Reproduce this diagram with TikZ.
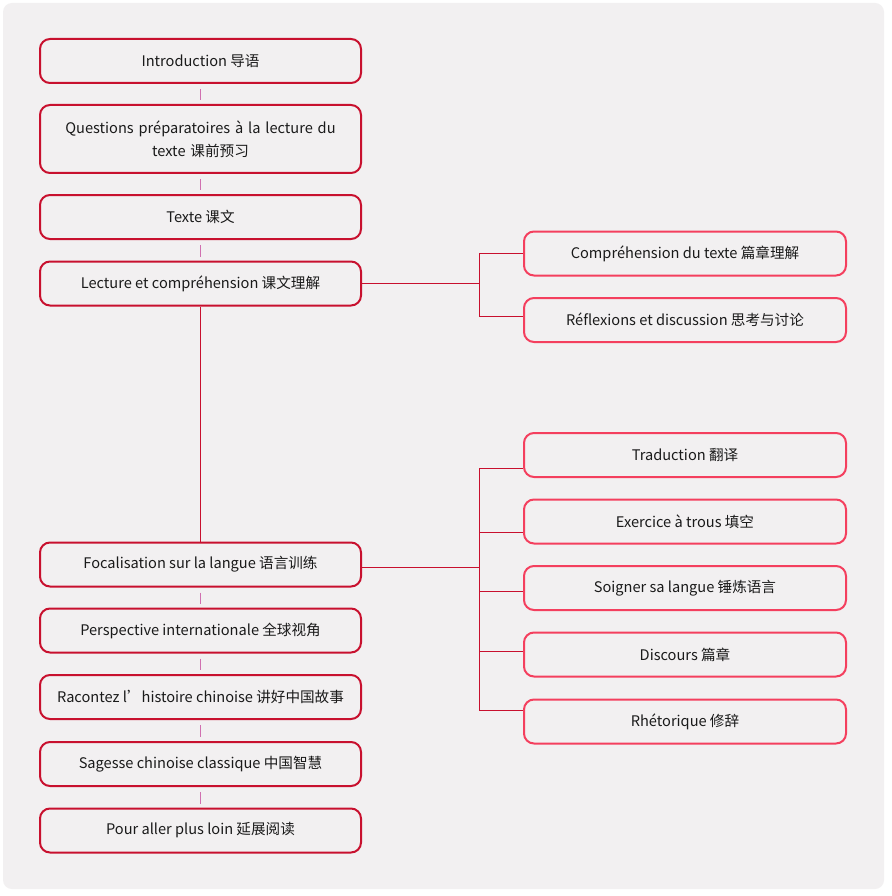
\documentclass[tikz,border=0pt]{standalone}
\usepackage{fontspec}
\setmainfont{Noto Sans CJK SC}
\definecolor{bgc}{HTML}{F2F0F1}
\definecolor{leftc}{HTML}{C8102E}
\definecolor{rightc}{HTML}{F43F5E}
\definecolor{linkc}{HTML}{D070B0}
\definecolor{txt}{HTML}{1A1A1A}
\begin{document}
\begin{tikzpicture}[x=1pt,y=-1pt,
  lbox/.style={draw=leftc,line width=2pt,rounded corners=10pt,minimum width=321pt,minimum height=44pt,inner sep=0pt,align=center,font=\fontsize{14.6}{23}\selectfont,text=txt},
  rbox/.style={draw=rightc,line width=2pt,rounded corners=10pt,minimum width=322pt,minimum height=44pt,inner sep=0pt,align=center,font=\fontsize{14.6}{23}\selectfont,text=txt},
  link/.style={draw=linkc,line width=1.2pt},
  tree/.style={draw=leftc,line width=1pt}]
\useasboundingbox (0,0) rectangle (891,896);
\fill[white] (0,0) rectangle (891,896);
\fill[bgc,rounded corners=9pt] (3,3) rectangle (884,889);
% left column
\node[lbox] (intro) at (200.5,61) {Introduction 导语};
\node[lbox,minimum height=68pt,text width=300pt] (quest) at (200.5,139) {Questions préparatoires à la lecture du\\texte 课前预习};
\node[lbox] (texte) at (200.5,217) {Texte 课文};
\node[lbox] (lect) at (200.5,283.5) {Lecture et compréhension 课文理解};
\node[lbox] (focal) at (200.5,564.5) {Focalisation sur la langue 语言训练};
\node[lbox] (persp) at (200.5,630.5) {Perspective internationale 全球视角};
\node[lbox] (racon) at (200.5,697) {Racontez l’histoire chinoise 讲好中国故事};
\node[lbox] (sages) at (200.5,764) {Sagesse chinoise classique 中国智慧};
\node[lbox] (pour) at (200.5,830.5) {Pour aller plus loin 延展阅读};
% right column
\node[rbox] (compr) at (685,253.5) {Compréhension du texte 篇章理解};
\node[rbox] (refl) at (685,320) {Réflexions et discussion 思考与讨论};
\node[rbox] (trad) at (685,455) {Traduction 翻译};
\node[rbox] (exer) at (685,521.5) {Exercice à trous 填空};
\node[rbox] (soig) at (685,588) {Soigner sa langue 锤炼语言};
\node[rbox] (disc) at (685,654.5) {Discours 篇章};
\node[rbox] (rhet) at (685,721.5) {Rhétorique 修辞};
% short links
\foreach \a/\b in {intro/quest,quest/texte,texte/lect,focal/persp,persp/racon,racon/sages,sages/pour}{
  \draw[link] ([yshift=-5pt]\a.south) -- ([yshift=4pt]\b.north);
}
\draw[tree] (lect.south) -- (focal.north);
% first tree
\coordinate (j1) at (479.5,283.5);
\draw[tree] (lect.east) -- (j1);
\draw[tree] (j1) |- ([yshift=0pt]compr.west);
\draw[tree] (j1) |- ([yshift=4pt]refl.west);
% second tree
\coordinate (j2) at (479.5,567.5);
\draw[tree] ([yshift=-3pt]focal.east) -- (j2);
\draw[tree] (j2) |- ([yshift=-13pt]trad.west);
\draw[tree] (j2) |- ([yshift=-11pt]exer.west);
\draw[tree] (j2) |- ([yshift=-3pt]soig.west);
\draw[tree] (j2) |- ([yshift=3.5pt]disc.west);
\draw[tree] (j2) |- ([yshift=11.5pt]rhet.west);
\end{tikzpicture}
\end{document}
